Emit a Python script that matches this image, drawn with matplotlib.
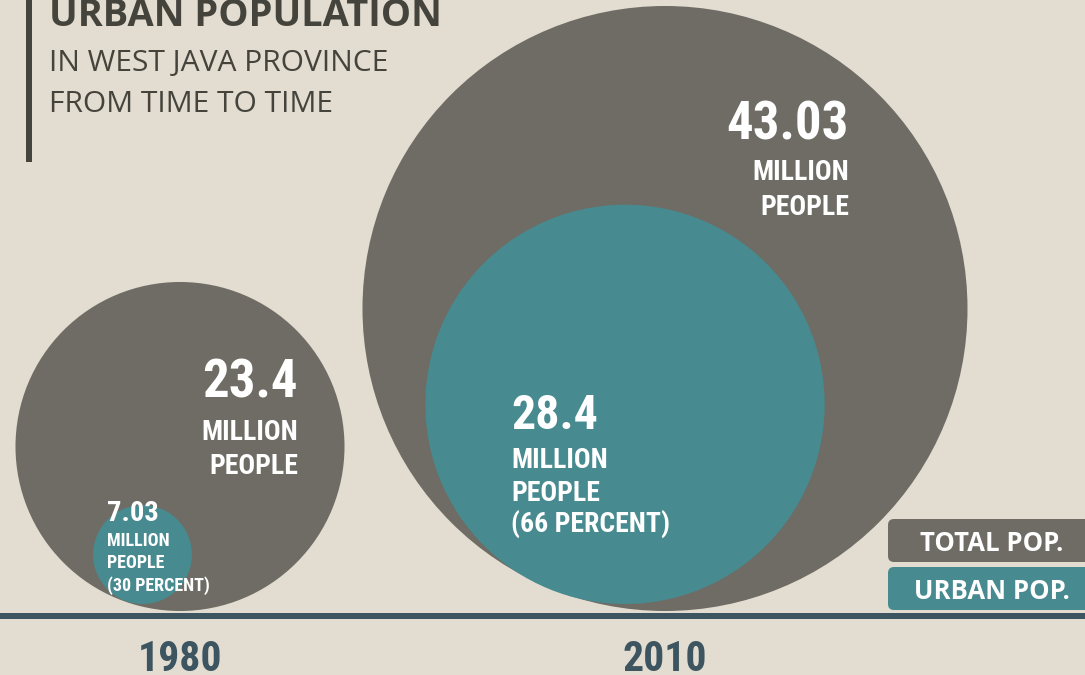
import matplotlib
matplotlib.use("Agg")
import matplotlib.pyplot as plt
from matplotlib.patches import Circle, FancyBboxPatch, Rectangle
from matplotlib import font_manager as fm

# ---- data ----
years = ["1980", "2010"]
total_pop = [23.4, 43.03]          # million people
urban_pop = [7.03, 28.4]           # million people
urban_pct = [30, 66]               # percent
total_labels = ["23.4", "43.03"]
urban_labels = ["7.03", "28.4"]
legend_labels = ["TOTAL POP.", "URBAN POP."]
title = "URBAN POPULATION"
subtitle = ["IN WEST JAVA PROVINCE", "FROM TIME TO TIME"]

# ---- style ----
BG = "#e2dcd1"
GRAY = "#6e6c64"
TEAL = "#478a90"
DARK = "#3c5560"
TITLE_C = "#45443c"
WHITE = "white"

names = {f.name for f in fm.fontManager.ttflist}
if "Liberation Sans Narrow" in names:
    NARROW = dict(family=["Liberation Sans Narrow", "DejaVu Sans"])
elif "Roboto Condensed" in names:
    NARROW = dict(family=["Roboto Condensed", "DejaVu Sans"])
else:
    NARROW = dict(family=["DejaVu Sans"], stretch="condensed")
SANS = ["Open Sans", "DejaVu Sans"]

fig = plt.figure(figsize=(10.85, 6.75), dpi=100)
fig.patch.set_facecolor(BG)
ax = fig.add_axes([0, 0, 1, 1])
ax.set_xlim(0, 1085)
ax.set_ylim(675, 0)
ax.set_aspect("equal")
ax.axis("off")
ax.set_facecolor(BG)

scale = 7.03          # px per million (radius proportional to value)
cx_total = [180, 665]
cx_urban = [142.5, 625]
total_bottom = 611
urban_bottom = 604

for i in range(2):
    r = total_pop[i] * scale
    ax.add_patch(Circle((cx_total[i], total_bottom - r), r, color=GRAY, lw=0, zorder=1))
for i in range(2):
    r = urban_pop[i] * scale
    ax.add_patch(Circle((cx_urban[i], urban_bottom - r), r, color=TEAL, lw=0, zorder=2))

# baseline
ax.add_patch(Rectangle((0, 613), 1085, 6, color=DARK, lw=0, zorder=3))

# title block
ax.add_patch(Rectangle((26, -5), 6, 167, color=TITLE_C, lw=0, zorder=3))
ax.text(49, 26, title, family=SANS, weight="bold", fontsize=27.4, color=TITLE_C, va="baseline", ha="left")
ax.text(49, 71, subtitle[0], family=SANS, fontsize=21.6, color=TITLE_C, va="baseline", ha="left")
ax.text(49, 112, subtitle[1], family=SANS, fontsize=21.6, color=TITLE_C, va="baseline", ha="left")

def t(x, y, s, size, ha="left"):
    ax.text(x, y, s, fontsize=size, weight="bold", color=WHITE, ha=ha, va="baseline", zorder=5, **NARROW)

# 1980 total
t(298, 397, total_labels[0], 38, "right")
t(298, 440, "MILLION", 20, "right")
t(298, 474, "PEOPLE", 20, "right")
# 2010 total
t(849, 140, total_labels[1], 38, "right")
t(849, 180, "MILLION", 20, "right")
t(849, 215, "PEOPLE", 20, "right")
# 2010 urban
t(511, 429, urban_labels[1], 34.5)
t(511, 468, "MILLION", 20)
t(511, 501, "PEOPLE", 20)
t(511, 532, f"({urban_pct[1]} PERCENT)", 20)
# 1980 urban
t(107, 521, urban_labels[0], 20.5)
t(107, 546, "MILLION", 13)
t(107, 568, "PEOPLE", 13)
t(107, 591, f"({urban_pct[0]} PERCENT)", 13)

# years
for i in range(2):
    ax.text(cx_total[i], 671, years[i], fontsize=30, weight="bold", color=DARK,
            ha="center", va="baseline", **NARROW)

# legend boxes
for j, (lab, col) in enumerate(zip(legend_labels, [GRAY, TEAL])):
    y0 = 519 + j * 48
    ax.add_patch(FancyBboxPatch((888, y0), 220, 43, boxstyle="round,pad=0,rounding_size=6",
                                fc=col, ec="none", zorder=3))
    ax.text(992, y0 + 21.5, lab, family=SANS, weight="bold", fontsize=18.5, color=WHITE,
            ha="center", va="center_baseline", zorder=4)

fig.savefig("out.png", dpi=100, facecolor=BG)
